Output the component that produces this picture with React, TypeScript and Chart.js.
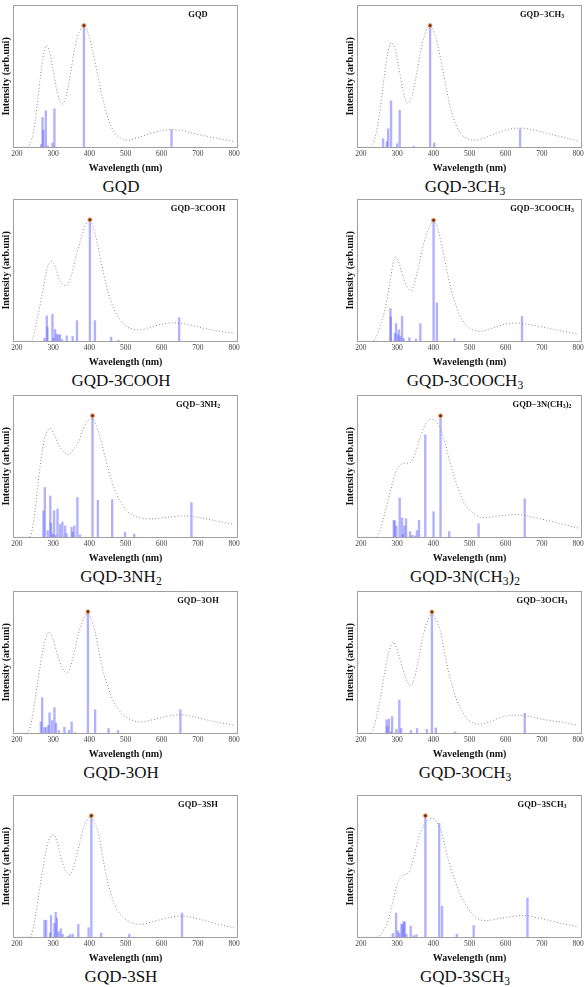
import React, { useEffect, useRef } from "react";
import { Chart, registerables } from "chart.js";

Chart.register(...registerables);

// ---------- shared axis data ----------
const xTicks = [200, 300, 400, 500, 600, 700, 800];
const xMin = 189;
const xMax = 811;

// ---------- GQD ----------
const gqdCurve = [[200,0],[225,0],[235,2],[245,10],[255,28],[265,50],[274,66],[282,71.5],[290,67],[300,54],[312,38],[324,30.3],[336,36],[348,52],[360,70],[372,81],[385,85],[397,80],[410,67],[425,48],[440,31],[455,18],[470,10],[490,6],[507,5],[530,6.5],[560,9],[595,11.5],[626,12.4],[660,11.5],[700,9],[750,6.5],[800,4]];
const gqdSticks = [[267,2],[270.5,21],[273,12],[279.7,25.6],[285,1],[298,3],[303.5,27],[385,85],[627,12.4]];
const gqdStar = [385, 85.5];

// ---------- GQD-3CH3 ----------
const ch3Curve = [[200,0],[222,0],[232,2],[242,10],[252,25],[262,45],[273,65],[284,73.5],[294,69],[305,55],[317,39],[329,31],[341,36],[354,52],[367,70],[380,82],[391,85],[403,80],[416,67],[430,49],[447,28],[462,16],[478,9],[495,6],[515,5],[545,7],[580,10.5],[610,12.8],[639,13.5],[680,12],[720,9.5],[760,7],[800,4.5]];
const ch3Sticks = [[261,6],[271.4,4],[275,13],[283,32.6],[300,2.5],[307,26],[345.6,0.8],[391,85],[402.4,3],[639.7,13]];
const ch3Star = [391, 85.5];

// ---------- GQD-3COOH ----------
const coohCurve = [[200,0],[235,0],[245,3],[255,14.5],[269,32],[282,50],[296,56],[306,52],[316,44],[327,40],[337,39],[350,46],[365,61.5],[378,73],[390,82],[401.5,85],[411,80],[420,71],[433,55],[447,39],[461,27],[475,19],[490,13.5],[505,10],[520,8.5],[539,8],[570,10],[600,12],[635,13],[670,12],[710,9.5],[750,7.5],[800,5.6]];
const coohSticks = [[276,2.2],[282.4,17.9],[284.3,10],[298,19],[300.8,2.2],[305.3,8.3],[310,5],[314.5,4.5],[319,4.7],[324.6,1.1],[337.4,3.8],[353.9,3.4],[365.8,14.5],[401.5,85],[415.3,14.5],[460,2.9],[480,0.7],[648,16.6]];
const coohStar = [401.5, 85.3];

// ---------- GQD-3COOCH3 ----------
const coochCurve = [[200,0],[232,0],[242,3],[252,10],[265,21],[279,39.5],[288,54],[295,59],[305,55],[318,44],[328,38],[338,35.5],[348,41],[359,52],[369,64],[378,73],[390,81],[400.6,84.5],[411,80],[422,68.5],[434,54],[446,39.5],[460,27],[473,18],[487,12.5],[501,9],[515,7.5],[529,7],[560,9],[590,11.5],[620,12.8],[660,12],[700,10],[750,7.5],[800,5]];
const coochSticks = [[281.5,23],[282.4,17],[293.4,5.6],[297,12.4],[301.7,4.5],[305,8],[309,3.4],[313.6,17.5],[318,2],[333.7,2.5],[352,1.5],[364,12.4],[400.6,84.7],[409.8,27],[458,1.8],[645,17.5]];
const coochStar = [400.6, 85];

// ---------- GQD-3NH2 ----------
const nh2Curve = [[200,0],[230,0],[240,3],[250,19],[264,50],[278,70.8],[292,76.5],[303,72],[314.5,65],[328,60],[342,58],[356,62],[369.5,66.6],[380,74],[388,79],[398,82.5],[408,83.6],[418,79],[429,70.8],[440,60],[452,48],[464,38],[475,30],[488,24],[502,19],[520,15.5],[539,13.7],[575.6,13],[620,14.2],[667,15],[710,13.5],[760,11],[800,9]];
const nh2Sticks = [[273,18.6],[277,35],[285,4.7],[292,29],[294,10],[298,2.5],[302.6,18.6],[306,1.3],[312,20],[319,9],[325.5,10.8],[333,8],[337,2.5],[351,7],[354,3.6],[358.5,8],[367,28],[374,1.8],[408.7,85],[423.5,26],[463,26.5],[498.6,3.6],[524,2.2],[682,24.4]];
const nh2Star = [408.7, 85.4];

// ---------- GQD-3N(CH3)2 ----------
const nme2Curve = [[200,0],[240,0],[248,1.5],[254,5.8],[268,19],[281.5,32.5],[295,45],[309,51],[322.7,52],[336.5,52.5],[350,59],[364,70.4],[378,79.4],[393,83],[410,80.7],[428,70.4],[446,52.5],[465,37],[483,25],[497,20],[510.5,17],[538,13.7],[580,15],[629.6,16],[670,14.5],[720,11.5],[760,9],[800,6.5]];
const nme2Sticks = [[290.7,12],[293.4,11.4],[298,8],[307,27.6],[313.6,13.5],[316,2],[320,8],[324.6,13],[335.6,4],[341,1.3],[348.4,1],[354.8,4.7],[360.3,11.9],[377.7,72],[400.6,18],[419.8,85],[443.7,4],[525,9.6],[652.5,27]];
const nme2Star = [419.8, 85.3];

// ---------- GQD-3OH ----------
const ohCurve = [[200,0],[225,0],[233,2],[241,9.4],[255,32],[269,54.6],[280,67],[290,71],[300,66],[310,56.6],[323,47],[337,42.5],[348,47],[360,59],[370,70],[378.6,77],[387,82],[395,84],[405,80],[415,72],[426,58],[438,44],[452,32],[465.6,23],[480,17],[493,12.8],[515,9.5],[539,8],[575,9.5],[615,12],[653,13],[690,11.5],[740,8.5],[800,5.6]];
const ohSticks = [[266,8],[269.6,25],[276,4],[280.6,4],[287,5.6],[290,14.4],[297,9],[303.5,18],[308,7.2],[316,2],[331,4.3],[344,2],[351,8],[360,0.5],[396,85],[416,16.6],[453,3.4],[479,2],[651.6,16.6]];
const ohStar = [396, 85.4];

// ---------- GQD-3OCH3 ----------
const omeCurve = [[200,0],[222,0],[232,2],[241,9.4],[255,27],[269,47.6],[280,60],[289,64],[298,60],[309,51],[322,40],[336.5,33.5],[348,39],[359,52],[369,65],[378,74.6],[387,81],[396,84],[407,80],[419,72],[430,58],[442,43],[454,32],[465,23],[478,16],[492,10.6],[508,7.5],[524,6.3],[555,8],[585,11],[616,12.8],[660,12],[710,9.5],[760,7.5],[800,5.6]];
const omeSticks = [[270.5,9.4],[273,5],[277,10],[283,1],[286,11.7],[298,2.7],[306,23.4],[311,3.4],[338,2],[355,3.4],[382,2.7],[396,85],[407,3.8],[460,1],[652.5,14]];
const omeStar = [396, 85.2];

// ---------- GQD-3SH ----------
const shCurve = [[200,0],[234,0],[242,3],[250,13.5],[264,36],[282,63],[291,70],[301,72],[312,66],[324,54],[334,47],[345,44],[355,48],[365,58],[374,67],[383,76],[393,82],[403,84.7],[413,81],[424,74],[435,59],[447,43],[458,32],[470,22.5],[486,16],[502,12.4],[520,10],[539,9],[575,11],[615,13.5],[656,15],[700,13],[750,9.5],[800,6.7]];
const shSticks = [[276,12],[280.6,12],[291.6,3],[294,15.3],[303.5,9.7],[307,17.5],[310,13.5],[315,3.8],[321,6],[326,2.2],[341,0.7],[346.6,1.8],[354,2.2],[369.5,9],[398,6.7],[405.5,85],[432.6,3],[510.5,2.2],[656,17]];
const shStar = [405.5, 85.4];

// ---------- GQD-3SCH3 ----------
const smeCurve = [[200,0],[244,0],[255,2],[265,6],[274,11],[288,24.7],[300.7,38],[314.4,43],[325,44.5],[334,46],[345.6,56],[359,69.6],[373,78.7],[386,82.5],[398.8,83.6],[409,81],[419,76.4],[430,66],[442,53.9],[454,44],[465,36],[476,29],[488,23.6],[504,17.5],[520,13.5],[542.6,11.7],[595,13.8],[648,15.3],[700,13],[750,10],[800,7.4]];
const smeSticks = [[288,2.7],[297,17],[302.6,4.5],[306,2.7],[311.8,9.4],[315.4,9],[318,11.2],[321,10.6],[325.5,2.2],[337.4,7.9],[345.6,1.1],[353,1.8],[378,85],[416,80],[424,21.8],[464.7,2.2],[511.4,8.3],[660,27.6]];
const smeStar = [378, 85.4];

const panelNames = [
  "GQD", "GQD-3CH3", "GQD-3COOH", "GQD-3COOCH3", "GQD-3NH2",
  "GQD-3N(CH3)2", "GQD-3OH", "GQD-3OCH3", "GQD-3SH", "GQD-3SCH3",
];
const panelCurves = [gqdCurve, ch3Curve, coohCurve, coochCurve, nh2Curve, nme2Curve, ohCurve, omeCurve, shCurve, smeCurve];
const panelSticks = [gqdSticks, ch3Sticks, coohSticks, coochSticks, nh2Sticks, nme2Sticks, ohSticks, omeSticks, shSticks, smeSticks];
const panelStars = [gqdStar, ch3Star, coohStar, coochStar, nh2Star, nme2Star, ohStar, omeStar, shStar, smeStar];

// ---------- layout ----------
const ROW_TOPS = [0, 194, 390, 586, 790];
const COL_LEFTS = [0, 344];
const CANVAS_W = 243;
const CANVAS_H = 174;
const SERIF = '"Liberation Serif", "Times New Roman", serif';

const subStyle: React.CSSProperties = { fontSize: "0.68em", verticalAlign: "-0.25em", lineHeight: 0 };

function Formula({ text, minus }: { text: string; minus?: boolean }) {
  const parts: React.ReactNode[] = [];
  for (let i = 0; i < text.length; i++) {
    const c = text[i];
    const prev = i > 0 ? text[i - 1] : "";
    if (/\d/.test(c) && /[A-Za-z)]/.test(prev)) {
      parts.push(<sub key={i} style={subStyle}>{c}</sub>);
    } else {
      parts.push(<span key={i}>{c === "-" && minus ? "\u2212" : c}</span>);
    }
  }
  return <>{parts}</>;
}

const framePlugin = {
  id: "frameBox",
  afterDatasetsDraw(chart: any) {
    const { ctx, chartArea } = chart;
    ctx.save();
    ctx.strokeStyle = "#a0a0a0";
    ctx.lineWidth = 1;
    ctx.strokeRect(
      Math.round(chartArea.left) + 0.5,
      Math.round(chartArea.top) + 0.5,
      Math.round(chartArea.right - chartArea.left) - 1,
      Math.round(chartArea.bottom - chartArea.top) - 1
    );
    ctx.restore();
  },
};

function Panel({ index }: { index: number }) {
  const ref = useRef<HTMLCanvasElement>(null);
  const name = panelNames[index];
  const left = COL_LEFTS[index % 2];
  const top = ROW_TOPS[Math.floor(index / 2)];

  useEffect(() => {
    if (!ref.current) return;
    const curve = panelCurves[index].map(([x, y]) => ({ x, y }));
    const sticks = panelSticks[index].map(([x, y]) => ({ x, y }));
    const star = [{ x: panelStars[index][0], y: panelStars[index][1] }];
    const chart = new Chart(ref.current, {
      type: "bar",
      data: {
        datasets: [
          {
            type: "line",
            data: star,
            showLine: false,
            pointRadius: 2,
            pointBackgroundColor: "#7a2f15",
            pointBorderColor: "#f0a868",
            pointBorderWidth: 0.9,
          } as any,
          {
            type: "line",
            data: curve,
            borderColor: "#8a8a8a",
            borderWidth: 1,
            borderDash: [1, 2.2],
            pointRadius: 0,
            cubicInterpolationMode: "monotone",
            fill: false,
          } as any,
          {
            type: "bar",
            data: sticks,
            backgroundColor: "rgba(100,100,255,0.5)",
            borderWidth: 0,
            barThickness: 1.7,
          } as any,
        ],
      },
      options: {
        responsive: false,
        animation: false,
        events: [],
        layout: { padding: { top: 2, right: 4, left: 0, bottom: 0 } },
        plugins: {
          legend: { display: false },
          tooltip: { enabled: false },
          title: { display: false },
        },
        scales: {
          x: {
            type: "linear",
            min: xMin,
            max: xMax,
            offset: false,
            grid: { display: false, drawTicks: false },
            border: { display: false },
            afterBuildTicks: (axis: any) => {
              axis.ticks = xTicks.map((v) => ({ value: v }));
            },
            ticks: {
              font: { family: SERIF, size: 7.5 },
              color: "#444",
              padding: 2,
              maxRotation: 0,
              autoSkip: false,
            },
            title: {
              display: true,
              text: "Wavelength (nm)",
              font: { family: SERIF, size: 10, weight: "bold" },
              color: "#111",
              padding: { top: 1, bottom: 0 },
            },
          },
          y: {
            min: -0.5,
            max: 100,
            grid: { display: false, drawTicks: false },
            border: { display: false },
            ticks: { display: false },
            title: {
              display: true,
              text: "Intensity (arb.uni)",
              font: { family: SERIF, size: 10, weight: "bold" },
              color: "#111",
              padding: { top: 0, bottom: 1 },
            },
          },
        },
      } as any,
      plugins: [framePlugin],
    });
    return () => chart.destroy();
  }, [index]);

  return (
    <div style={{ position: "absolute", left, top, width: CANVAS_W, height: 200 }}>
      <canvas
        ref={ref}
        width={CANVAS_W}
        height={CANVAS_H}
        style={{ position: "absolute", left: 0, top: 0, width: CANVAS_W, height: CANVAS_H }}
      />
      <div
        style={{
          position: "absolute",
          left: 138,
          top: 8,
          width: 120,
          textAlign: "center",
          fontFamily: SERIF,
          fontWeight: "bold",
          fontSize: "8.5px",
          lineHeight: "12px",
          color: "#111",
          whiteSpace: "nowrap",
        }}
      >
        <Formula text={name} minus />
      </div>
      <div
        style={{
          position: "absolute",
          left: 1,
          top: 177,
          width: 240,
          textAlign: "center",
          fontFamily: SERIF,
          fontSize: "17px",
          lineHeight: "20px",
          color: "#111",
          whiteSpace: "nowrap",
        }}
      >
        <Formula text={name} />
      </div>
    </div>
  );
}

export default function App() {
  return (
    <div
      style={{
        position: "absolute",
        left: 0,
        top: 0,
        width: 587,
        height: 987,
        background: "#fff",
        overflow: "hidden",
      }}
    >
      {panelNames.map((_, i) => (
        <Panel key={i} index={i} />
      ))}
    </div>
  );
}
